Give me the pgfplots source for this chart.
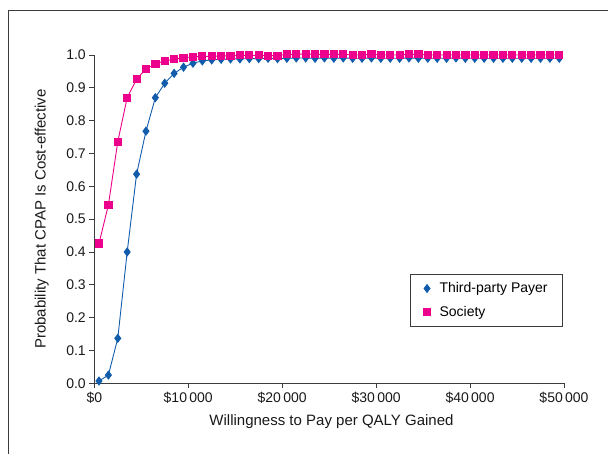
\documentclass[border=0pt]{standalone}
\usepackage{fontspec}
\setmainfont{Liberation Sans}
\usepackage{pgfplots}
\usepackage{pgfplotstable}
\pgfplotsset{compat=1.18}
\definecolor{tpblue}{RGB}{18,92,172}
\definecolor{socpink}{RGB}{236,0,140}
\definecolor{framegray}{RGB}{60,60,60}

\pgfplotstableread{
x      payer  society
500    0.007  0.426
1500   0.025  0.543
2500   0.137  0.736
3500   0.400  0.870
4500   0.637  0.926
5500   0.768  0.958
6500   0.870  0.973
7500   0.914  0.982
8500   0.944  0.987
9500   0.963  0.992
10500  0.975  0.994
11500  0.982  0.996
12500  0.985  0.996
13500  0.987  0.997
14500  0.988  0.998
15500  0.988  0.999
16500  0.989  0.999
17500  0.989  0.999
18500  0.990  0.998
19500  0.989  0.998
20500  0.990  1.002
21500  0.991  1.002
22500  0.991  1.003
23500  0.990  1.002
24500  0.991  1.002
25500  0.990  1.002
26500  0.991  1.002
27500  0.990  1.000
28500  0.990  1.000
29500  0.991  1.002
30500  0.990  1.000
31500  0.990  1.000
32500  0.990  1.000
33500  0.991  1.002
34500  0.990  1.002
35500  0.990  1.000
36500  0.990  1.000
37500  0.990  1.000
38500  0.991  1.000
39500  0.990  1.000
40500  0.990  1.000
41500  0.990  1.000
42500  0.990  1.000
43500  0.990  1.000
44500  0.990  1.000
45500  0.990  1.000
46500  0.990  1.000
47500  0.990  1.000
48500  0.990  1.000
49500  0.990  1.000
}\cpapdata

\begin{document}
\begin{tikzpicture}
\useasboundingbox (0,0) rectangle (608bp,454bp);
\draw[line width=1bp, framegray] (8bp,0bp) -- (8bp,443bp) -- (608bp,443bp);
\begin{axis}[
  at={(94.3bp,70.7bp)}, anchor=south west,
  scale only axis,
  width=469.7bp, height=328.3bp,
  xmin=0, xmax=50000, ymin=0, ymax=1,
  scaled x ticks=false,
  axis x line=bottom, axis y line=left,
  axis line style={-, line width=0.8bp, framegray},
  tick style={line width=0.8bp, framegray},
  tick align=outside,
  major tick length=5bp,
  xtick={0,10000,20000,30000,40000,50000},
  xticklabels={\$0,\$10\,000,\$20\,000,\$30\,000,\$40\,000,\$50\,000},
  ytick={0,0.1,0.2,0.3,0.4,0.5,0.6,0.7,0.8,0.9,1},
  yticklabels={0.0,0.1,0.2,0.3,0.4,0.5,0.6,0.7,0.8,0.9,1.0},
  ticklabel style={font=\fontsize{14bp}{16bp}\selectfont, text=black!90},
  label style={font=\fontsize{15bp}{17bp}\selectfont, text=black!90},
  xlabel={Willingness to Pay per QALY Gained},
  ylabel={Probability That CPAP Is Cost-effective},
  xlabel style={at={(axis description cs:0.505,-0.118)}, anchor=center},
  ylabel style={at={(axis description cs:-0.112,0.5)}, anchor=center},
  clip=false,
  legend style={at={(0.998,0.332)}, anchor=north east,
    draw=framegray, line width=0.8bp,
    font=\fontsize{14bp}{16bp}\selectfont,
    inner xsep=13bp, inner ysep=6bp, row sep=8bp,
    /tikz/every odd column/.append style={column sep=7bp}},
  legend cell align=left,
]
\addlegendimage{only marks, mark=diamond*, tpblue, mark size=4bp}
\addlegendentry{Third-party Payer}
\addlegendimage{only marks, mark=square*, socpink, mark size=3.5bp}
\addlegendentry{Society}
\addplot[forget plot, tpblue, line width=0.9bp, mark=diamond*, mark size=4bp] table[x=x, y=payer] {\cpapdata};
\addplot[forget plot, socpink, line width=0.9bp, mark=square*, mark size=3.6bp] table[x=x, y=society] {\cpapdata};
\end{axis}
\end{tikzpicture}
\end{document}
